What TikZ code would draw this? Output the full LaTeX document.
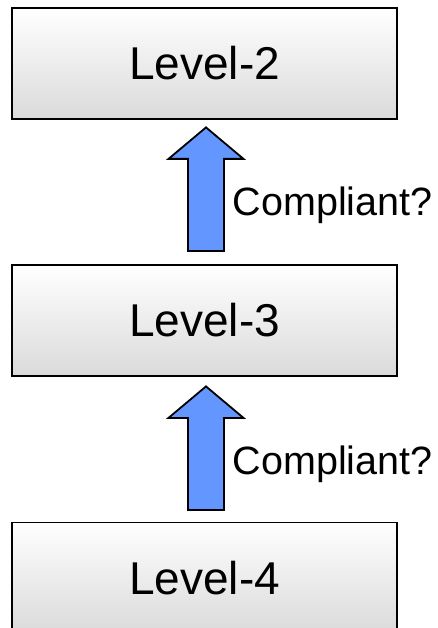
\documentclass[tikz,border=0pt]{standalone}
\usepackage{fontspec}
\setmainfont{Liberation Sans}
\definecolor{boxlow}{RGB}{218,218,218}
\definecolor{arrowblue}{RGB}{100,150,255}
\tikzset{
  levelbox/.style={draw=black, line width=1.8, rectangle,
    top color=white, bottom color=boxlow,
    minimum width=385, minimum height=111, inner sep=0,
    font=\fontsize{46}{55}\selectfont},
  blockarrow/.style={draw=black, line width=1.8, fill=arrowblue, line join=miter},
  asklabel/.style={anchor=base west, inner sep=0,
    font=\fontsize{39.5}{47}\selectfont}
}
\begin{document}
\begin{tikzpicture}[x=1pt, y=-1pt]
  \useasboundingbox (0,0) rectangle (437,628);
  \clip (0,0) rectangle (437,628);

  % the three levels
  \node[levelbox] (l2) at (204.5,63.5)  {Level-2};
  \node[levelbox] (l3) at (204.5,320.5) {Level-3};
  \node[levelbox] (l4) at (204.5,578)   {Level-4};

  % tips of the upward block arrows, just below each upper box
  \path (l2.south) ++(1.5,7.5)  coordinate (t1);
  \path (l3.south) ++(1.5,9.5)  coordinate (t2);

  % block arrow pointing up from the lower level to the upper one
  \foreach \t in {t1,t2} {
    \draw[blockarrow] (\t) -- ++(37.5,31.5) -- ++(-19.5,0) -- ++(0,92)
      -- ++(-36,0) -- ++(0,-92) -- ++(-19.5,0) -- cycle;
    \path (\t) ++(26.5,88.3) node[asklabel] {Compliant?};
  }
\end{tikzpicture}
\end{document}
